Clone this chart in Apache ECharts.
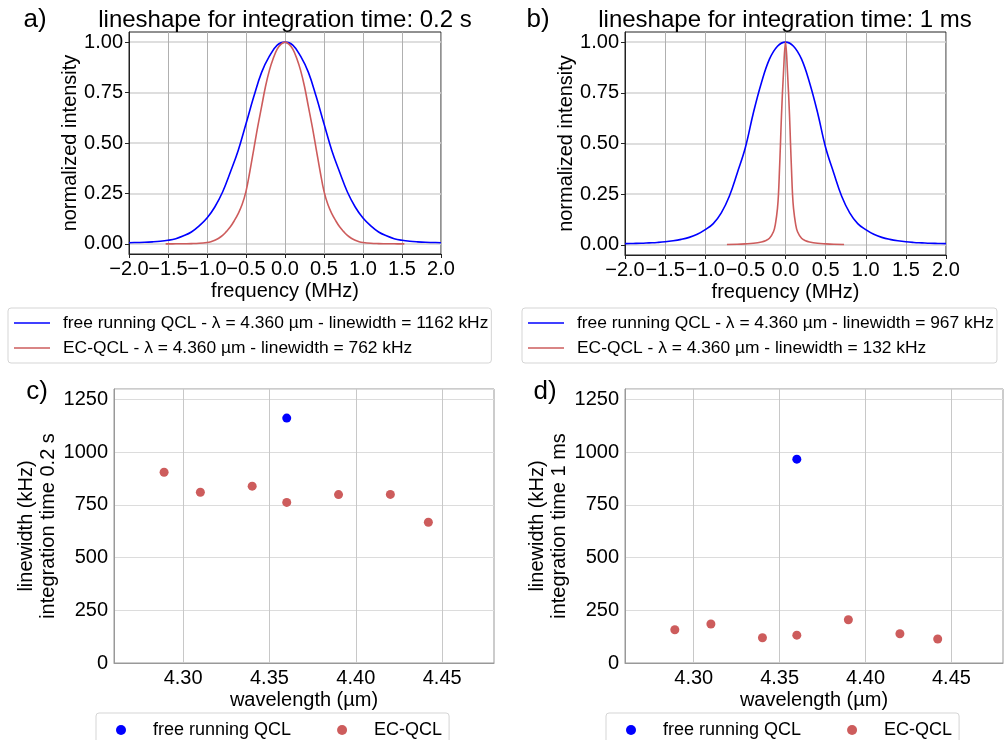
<!DOCTYPE html>
<html>
<head>
<meta charset="utf-8">
<script src="https://cdn.jsdelivr.net/npm/echarts@6/dist/echarts.min.js"></script>
<style>
  html, body { margin: 0; padding: 0; background: #fff; }
  #chart { width: 1004px; height: 740px; }
</style>
</head>
<body>
<div id="chart"></div>
<script>
// values

// a) lineshape, integration time 0.2 s
const freqA = [-2.0, -1.9, -1.8, -1.7, -1.6, -1.5, -1.4, -1.3, -1.2, -1.1, -1.0, -0.9, -0.8, -0.7, -0.6, -0.5, -0.4, -0.3, -0.2, -0.1,
  0.0, 0.1, 0.2, 0.3, 0.4, 0.5, 0.6, 0.7, 0.8, 0.9, 1.0, 1.1, 1.2, 1.3, 1.4, 1.5, 1.6, 1.7, 1.8, 1.9, 2.0]
const freeA = [0.006, 0.007, 0.008, 0.010, 0.013, 0.018, 0.026, 0.040, 0.059, 0.089, 0.128, 0.183, 0.257, 0.356, 0.463, 0.595, 0.73, 0.85, 0.93, 0.985,
  1.0, 0.985, 0.93, 0.85, 0.73, 0.595, 0.463, 0.356, 0.257, 0.183, 0.128, 0.089, 0.059, 0.040, 0.026, 0.018, 0.013, 0.010, 0.008, 0.007, 0.006]
const freqRedA = [-1.53, -1.4, -1.3, -1.2, -1.1, -1.0, -0.95, -0.9, -0.85, -0.8, -0.75, -0.7, -0.65, -0.6, -0.55, -0.5, -0.45, -0.4, -0.35, -0.3, -0.25, -0.2, -0.15, -0.1, -0.05,
  0.0, 0.05, 0.1, 0.15, 0.2, 0.25, 0.3, 0.35, 0.4, 0.45, 0.5, 0.55, 0.6, 0.65, 0.7, 0.75, 0.8, 0.85, 0.9, 0.95, 1.0, 1.1, 1.2, 1.3, 1.4, 1.53]
const ecA = [0.0003, 0.0005, 0.001, 0.0015, 0.003, 0.007, 0.011, 0.018, 0.028, 0.042, 0.062, 0.085, 0.115, 0.15, 0.195, 0.26, 0.36, 0.47, 0.58, 0.68, 0.78, 0.86, 0.92, 0.965, 0.99,
  1.0, 0.99, 0.965, 0.92, 0.86, 0.78, 0.68, 0.58, 0.47, 0.36, 0.26, 0.195, 0.15, 0.115, 0.085, 0.062, 0.042, 0.028, 0.018, 0.011, 0.007, 0.003, 0.0015, 0.001, 0.0005, 0.0003]

// b) lineshape, integration time 1 ms
const freqB = freqA
const freeB = [0.006, 0.007, 0.008, 0.010, 0.012, 0.015, 0.020, 0.027, 0.037, 0.052, 0.075, 0.105, 0.158, 0.24, 0.356, 0.48, 0.652, 0.80, 0.916, 0.98,
  1.0, 0.98, 0.916, 0.80, 0.652, 0.48, 0.356, 0.24, 0.158, 0.105, 0.075, 0.052, 0.037, 0.027, 0.020, 0.015, 0.012, 0.010, 0.008, 0.007, 0.006]
const freqRedB = [-0.73, -0.6, -0.5, -0.4, -0.3, -0.25, -0.2, -0.15, -0.125, -0.1, -0.0875, -0.075, -0.0625, -0.05, -0.025,
  0.0, 0.025, 0.05, 0.0625, 0.075, 0.0875, 0.1, 0.125, 0.15, 0.2, 0.25, 0.3, 0.4, 0.5, 0.6, 0.73]
const ecB = [0.002, 0.003, 0.005, 0.008, 0.014, 0.02, 0.033, 0.065, 0.105, 0.18, 0.25, 0.37, 0.5, 0.64, 0.85,
  1.0, 0.85, 0.64, 0.5, 0.37, 0.25, 0.18, 0.105, 0.065, 0.033, 0.02, 0.014, 0.008, 0.005, 0.003, 0.002]

// c) / d) linewidth vs wavelength
const wavelengths = [4.289, 4.31, 4.34, 4.36, 4.39, 4.42, 4.442]
const ecLw02 = [905, 810, 839, 762, 799, 800, 668]
const ecLw1ms = [158, 185, 120, 132, 205, 139, 114]
const freeWl = [4.36]
const freeLw02 = [1162]
const freeLw1ms = [967]

// frequency tick labels are split over two axes so that touching labels all stay
const freqXTicksEven = [-2.0, -1.0, 0.0, 1.0, 2.0]
const freqXTicksOdd = [-1.5, -0.5, 0.5, 1.5]
const freqTicks = [0, 0.25, 0.5, 0.75, 1.0]
const wlTicks = [4.30, 4.35, 4.40, 4.45]

const nameFreeA = 'free running QCL - \u03bb = 4.360 \u00b5m - linewidth = 1162 kHz'
const nameEcA = 'EC-QCL - \u03bb = 4.360 \u00b5m - linewidth = 762 kHz'
const nameFreeB = 'free running QCL - \u03bb = 4.360 \u00b5m - linewidth = 967 kHz'
const nameEcB = 'EC-QCL - \u03bb = 4.360 \u00b5m - linewidth = 132 kHz'

const BLUE = '#0000ff'
const RED = '#cd5c5c'
const FONT = '"Liberation Sans", Arial, sans-serif'

const pairs = (xs, ys) => xs.map((x, i) => [x, ys[i]])
const minus = v => (v < 0 ? '\u2212' : '') + Math.abs(v).toFixed(1)

function topX (gi) {
  return {
    gridIndex: gi, type: 'value', position: 'bottom', min: -2, max: 2, interval: 0.5,
    name: 'frequency (MHz)', nameLocation: 'middle', nameGap: 27,
    nameTextStyle: { fontSize: 20, color: '#000', fontFamily: FONT },
    axisLine: { onZero: false, lineStyle: { color: '#222', width: 1 } },
    axisTick: { show: true, length: 4, lineStyle: { color: '#222' } },
    axisLabel: {
      fontSize: 20, color: '#000', fontFamily: FONT, margin: 5, formatter: minus,
      customValues: freqXTicksEven, showMinLabel: true, showMaxLabel: true
    },
    splitLine: { show: true, lineStyle: { color: '#b0b0b0', width: 1 } }
  }
}
function topXOdd (gi) {
  return {
    gridIndex: gi, type: 'value', position: 'bottom', min: -2, max: 2, interval: 0.5,
    axisLine: { show: false, onZero: false },
    axisTick: { show: false },
    splitLine: { show: false },
    axisLabel: {
      fontSize: 20, color: '#000', fontFamily: FONT, margin: 5, formatter: minus,
      customValues: freqXTicksOdd
    }
  }
}
function topY (gi) {
  return {
    gridIndex: gi, type: 'value', min: -0.05, max: 1.05,
    name: 'normalized intensity', nameLocation: 'middle', nameGap: 47, nameRotate: 90,
    nameTextStyle: { fontSize: 20, color: '#000', fontFamily: FONT },
    axisLine: { show: true, onZero: false, lineStyle: { color: '#222', width: 1 } },
    axisTick: { show: true, length: 4, lineStyle: { color: '#222' }, customValues: freqTicks },
    axisLabel: { fontSize: 20, color: '#000', fontFamily: FONT, margin: 6, customValues: freqTicks, formatter: v => v.toFixed(2) },
    splitLine: { show: true, lineStyle: { color: '#d3d3d3', width: 1.5 } }
  }
}
function botX (gi) {
  return {
    gridIndex: gi, type: 'value', min: 4.26, max: 4.48,
    name: 'wavelength (\u00b5m)', nameLocation: 'middle', nameGap: 27,
    nameTextStyle: { fontSize: 20, color: '#000', fontFamily: FONT },
    axisLine: { onZero: false, lineStyle: { color: '#999', width: 1 } },
    axisTick: { show: false, customValues: wlTicks },
    axisLabel: { fontSize: 20, color: '#000', fontFamily: FONT, margin: 5, customValues: wlTicks, formatter: v => v.toFixed(2) },
    splitLine: { show: true, lineStyle: { color: '#c8c8c8', width: 1 } }
  }
}
function botY (gi, label, gap) {
  return {
    gridIndex: gi, type: 'value', min: 0, max: 1300, interval: 250,
    name: label, nameLocation: 'middle', nameGap: gap, nameRotate: 90,
    nameTextStyle: { fontSize: 20, color: '#000', fontFamily: FONT, lineHeight: 22 },
    axisLine: { show: true, onZero: false, lineStyle: { color: '#999', width: 1 } },
    axisTick: { show: false },
    axisLabel: { fontSize: 20, color: '#000', fontFamily: FONT, margin: 6, showMaxLabel: false, formatter: v => String(v) },
    splitLine: { show: true, lineStyle: { color: '#dcdcdc', width: 1 } }
  }
}
function lineLegend (left, names) {
  return {
    orient: 'vertical', left: left, top: 308, icon: 'rect', itemWidth: 36, itemHeight: 1.5, itemGap: 5,
    padding: [5, 3, 5, 6], borderColor: '#d5d5d5', borderWidth: 1, borderRadius: 3,
    textStyle: { fontSize: 17.4, color: '#000', fontFamily: FONT, lineHeight: 20, padding: [0, 0, 0, 8] },
    data: names
  }
}
function dotLegend (left) {
  return {
    orient: 'horizontal', left: left, top: 713, icon: 'circle', itemWidth: 10, itemHeight: 10, itemGap: 46,
    padding: [8, 7, 12, 20], borderColor: '#d5d5d5', borderWidth: 1, borderRadius: 3,
    textStyle: { fontSize: 18, color: '#000', fontFamily: FONT, padding: [0, 0, 0, 22] },
    data: ['free running QCL', 'EC-QCL']
  }
}
function label (x, y, text, size) {
  return {
    type: 'text', x: x, y: y,
    style: { text: text, fill: '#000', font: size + 'px ' + FONT, textAlign: 'center', textVerticalAlign: 'middle' }
  }
}
function curve (name, xs, ys, color, xi) {
  return {
    name: name, type: 'line', xAxisIndex: xi, yAxisIndex: xi, data: pairs(xs, ys),
    showSymbol: false, smooth: 0.4, lineStyle: { color: color, width: 1.6 }, itemStyle: { color: color }
  }
}
function dots (name, xs, ys, color, xi) {
  return {
    name: name, type: 'scatter', xAxisIndex: xi, yAxisIndex: xi, data: pairs(xs, ys),
    symbolSize: 9, itemStyle: { color: color, opacity: 1 }
  }
}

const chart = echarts.init(document.getElementById('chart'), null, { renderer: 'canvas' })
chart.setOption({
  animation: false,
  backgroundColor: '#fff',
  textStyle: { fontFamily: FONT },
  grid: [
    { left: 129, top: 32, width: 312, height: 222, show: true, borderColor: '#222', borderWidth: 1 },
    { left: 625, top: 32, width: 321, height: 223, show: true, borderColor: '#222', borderWidth: 1 },
    { left: 114, top: 389, width: 380, height: 274, show: true, borderColor: '#999', borderWidth: 1 },
    { left: 625, top: 389, width: 378, height: 274, show: true, borderColor: '#999', borderWidth: 1 }
  ],
  xAxis: [topX(0), topX(1), botX(2), botX(3), topXOdd(0), topXOdd(1)],
  yAxis: [
    topY(0), topY(1),
    botY(2, 'linewidth (kHz)\nintegration time 0.2 s', 50),
    botY(3, 'linewidth (kHz)\nintegration time 1 ms', 51)
  ],
  legend: [
    lineLegend(8, [nameFreeA, nameEcA]),
    lineLegend(522, [nameFreeB, nameEcB]),
    dotLegend(96),
    dotLegend(606)
  ],
  graphic: [
    label(35, 20, 'a)', 26),
    label(285, 20, 'lineshape for integration time: 0.2 s', 24),
    label(538, 20, 'b)', 26),
    label(785, 20, 'lineshape for integration time: 1 ms', 24),
    label(37, 392, 'c)', 26),
    label(545, 392, 'd)', 26)
  ],
  series: [
    curve(nameFreeA, freqA, freeA, BLUE, 0),
    curve(nameEcA, freqRedA, ecA, RED, 0),
    curve(nameFreeB, freqB, freeB, BLUE, 1),
    curve(nameEcB, freqRedB, ecB, RED, 1),
    dots('free running QCL', freeWl, freeLw02, BLUE, 2),
    dots('EC-QCL', wavelengths, ecLw02, RED, 2),
    dots('free running QCL', freeWl, freeLw1ms, BLUE, 3),
    dots('EC-QCL', wavelengths, ecLw1ms, RED, 3)
  ]
})
window.onresize = () => { chart.resize() }
</script>
</body>
</html>
